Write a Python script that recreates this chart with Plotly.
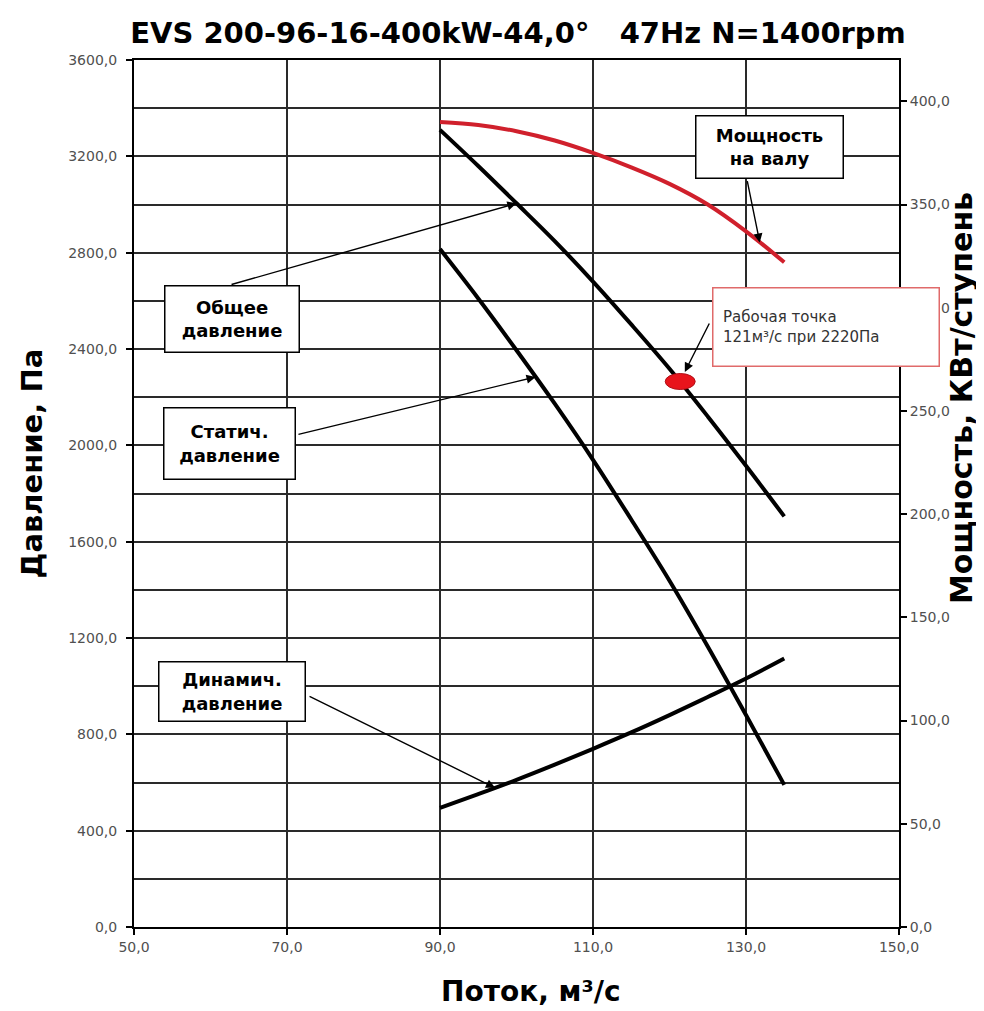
import numpy as np
import plotly.graph_objects as go

# ---------------- data ----------------
flow = [90, 95, 100, 105, 110, 115, 120, 125, 130, 135]
total_pressure = [3310, 3160, 3005, 2848, 2680, 2502, 2318, 2120, 1915, 1705]
static_pressure = [2815, 2610, 2395, 2173, 1940, 1692, 1438, 1165, 880, 590]
dynamic_pressure = [495, 552, 611, 674, 740, 808, 880, 955, 1032, 1115]
shaft_power = [390, 388.5, 385.5, 381, 375, 368, 360, 350, 337, 322]

wp_flow = [121.4]
wp_pressure = [2265]

x_tickvals = [50, 70, 90, 110, 130, 150]
x_ticktext = ["50,0", "70,0", "90,0", "110,0", "130,0", "150,0"]
y_tickvals = [0, 400, 800, 1200, 1600, 2000, 2400, 2800, 3200, 3600]
y_ticktext = ["0,0", "400,0", "800,0", "1200,0", "1600,0", "2000,0", "2400,0", "2800,0", "3200,0", "3600,0"]
y2_tickvals = [0, 50, 100, 150, 200, 250, 300, 350, 400]
y2_ticktext = ["0,0", "50,0", "100,0", "150,0", "200,0", "250,0", "300,0", "350,0", "400,0"]

title_text = "EVS 200-96-16-400kW-44,0°\u00a0\u00a0\u00a047Hz N=1400rpm"
x_title = "Поток, м³/с"
y_title = "Давление, Па"
y2_title = "Мощность, КВт/ступень"

FONT = "DejaVu Sans"
GRID = "#2a2a2a"
RED = "#d0202c"

fig = go.Figure()

fig.add_trace(go.Scatter(x=flow, y=total_pressure, mode="lines", line=dict(color="black", width=4, shape="spline"),
                         name="Общее давление", showlegend=False))
fig.add_trace(go.Scatter(x=flow, y=static_pressure, mode="lines", line=dict(color="black", width=4, shape="spline"),
                         name="Статич. давление", showlegend=False))
fig.add_trace(go.Scatter(x=flow, y=dynamic_pressure, mode="lines", line=dict(color="black", width=4, shape="spline"),
                         name="Динамич. давление", showlegend=False))
fig.add_trace(go.Scatter(x=flow, y=shaft_power, mode="lines", line=dict(color=RED, width=4, shape="spline"),
                         name="Мощность на валу", yaxis="y2", showlegend=False))

# working point (ellipse anchored at the data point)
fig.add_shape(type="circle", xref="x", yref="y", xsizemode="pixel", ysizemode="pixel",
              xanchor=wp_flow[0], yanchor=wp_pressure[0], x0=-15, x1=15, y0=-8, y1=8,
              fillcolor="#e8141c", line=dict(color="#b01018", width=1), layer="above")

box_font = dict(family=FONT, size=18, color="black")

def box(text, x, y, w, h, yref="y", border="black", font=box_font, align="center"):
    fig.add_annotation(text=text, x=x, y=y, xref="x", yref=yref, showarrow=False,
                       width=w, height=h, bordercolor=border, borderwidth=1.5, borderpad=0,
                       bgcolor="white", font=font, align=align, valign="middle")

def arrow(x, y, ax, ay, yref="y"):
    fig.add_annotation(text="", x=x, y=y, ax=ax, ay=ay, xref="x", yref=yref, axref="x", ayref=yref,
                       showarrow=True, arrowhead=2, arrowsize=1.3, arrowwidth=1.4, arrowcolor="black")

# arrows (tips sit on the curves)
arrow(100, np.interp(100, flow, total_pressure), 62.55, 2666)
arrow(102.5, np.interp(102.5, flow, static_pressure), 71.3, 2044)
arrow(97.2, np.interp(97.2, flow, dynamic_pressure), 72.75, 961)
arrow(131.8, np.interp(131.8, flow, shaft_power), 130.13, 362, yref="y2")
arrow(122.0, 2305, 125.3, 2512)

box("<b>Общее<br>давление</b>", 62.81, 2525, 133, 65)
box("<b>Статич.<br>давление</b>", 62.48, 2008, 130, 70)
box("<b>Динамич.<br>давление</b>", 62.81, 979, 145, 58)
box("<b>Мощность<br>на валу</b>", 133.07, 3239, 146, 61)
box("\u00a0\u00a0Рабочая точка<br>\u00a0\u00a0121м³/с при 2220Па", 140.46, 2492, 225, 77,
    border="#e06a6a", font=dict(family=FONT, size=15, color="#333333"), align="left")

# axis titles as annotations (placed as in the reference)
fig.add_annotation(text="<b>" + x_title + "</b>", xref="paper", yref="paper", x=0.519, y=-0.074,
                   xanchor="center", yanchor="middle",
                   showarrow=False, font=dict(family=FONT, size=28, color="black"))
fig.add_annotation(text="<b>" + y_title + "</b>", xref="paper", yref="paper", x=-0.133, y=0.535,
                   xanchor="center", yanchor="middle",
                   showarrow=False, textangle=-90, font=dict(family=FONT, size=29, color="black"))
fig.add_annotation(text="<b>" + y2_title + "</b>", xref="paper", yref="paper", x=1.081, y=0.61,
                   xanchor="center", yanchor="middle",
                   showarrow=False, textangle=-90, font=dict(family=FONT, size=30, color="black"))

tick_font = dict(family=FONT, size=14, color="#505050")

# page body adds an 8px offset; size the figure so the plot area lands where the reference has it
fig.update_layout(
    width=976, height=1003,
    margin=dict(l=126, r=85, t=52, b=84),
    paper_bgcolor="white", plot_bgcolor="white",
    title=dict(text="<b>" + title_text + "</b>", x=0.502, xref="paper", xanchor="center",
               y=1 - 25 / 1003, yref="container", yanchor="middle",
               font=dict(family=FONT, size=29, color="black")),
    xaxis=dict(range=[50, 150], tickvals=x_tickvals, ticktext=x_ticktext, showgrid=True,
               gridcolor=GRID, gridwidth=1.8, showline=True, linecolor="black", linewidth=2,
               ticks="outside", ticklen=6, tickwidth=1.5, tickcolor="black", tickfont=tick_font,
               zeroline=False, mirror=True),
    yaxis=dict(range=[0, 3600], tickvals=y_tickvals, ticktext=y_ticktext, showgrid=True,
               gridcolor=GRID, gridwidth=1.8, showline=True, linecolor="black", linewidth=2,
               ticks="outside", ticklen=6, tickwidth=1.5, tickcolor="black", tickfont=tick_font,
               zeroline=False, ticklabelstandoff=6,
               minor=dict(dtick=200, tick0=0, showgrid=True, gridcolor=GRID, gridwidth=1.8, ticks="")),
    yaxis2=dict(range=[0, 420], tickvals=y2_tickvals, ticktext=y2_ticktext, overlaying="y", side="right",
                showgrid=False, showline=True, linecolor="black", linewidth=2,
                ticks="outside", ticklen=6, tickwidth=1.5, tickcolor="black", tickfont=tick_font,
                zeroline=False),
)

fig.write_html("out.html")
